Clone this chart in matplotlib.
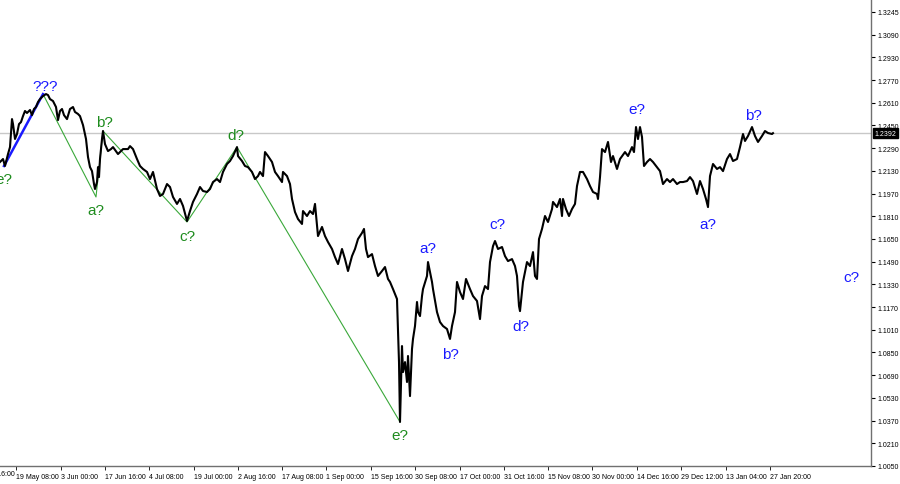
import numpy as np
import matplotlib
matplotlib.use("Agg")
import matplotlib.pyplot as plt
import matplotlib.transforms as mtransforms

plt.rcParams['font.family'] = ['Liberation Sans', 'DejaVu Sans']

# price path (bar index, close)
bars = [0, 3, 5, 8, 10, 12, 13, 15, 17, 19, 21, 23, 25, 27, 30, 32, 34, 36, 38, 40,
        43, 46, 48, 50, 53, 56, 58, 60, 62, 64, 67, 70, 73, 75, 78, 80, 83, 86, 88, 90,
        92, 94, 95, 97, 98, 99, 100, 102, 103, 105, 108, 111, 113, 118, 123, 128,
        130, 133, 137, 140, 143, 147, 150, 153, 157, 160, 163, 167, 170, 173, 177, 180,
        183, 187, 190, 193, 197, 200, 203, 207, 210, 213, 217, 220, 223, 227, 230, 233,
        237, 238, 242, 245, 248, 252, 255, 258,
        260, 263, 265, 268, 272, 275, 278, 282, 283, 287, 290, 292, 295, 298, 302, 303,
        307, 310, 313, 315, 317, 318, 322, 325, 328, 332, 335, 338, 342, 345, 348, 352,
        355, 358, 362, 364, 366, 368, 372, 375, 378, 382, 385, 388,
        390, 393, 397, 398, 399, 400, 402, 403, 405, 407, 408, 410, 412, 413, 415, 417,
        418, 420, 422, 423, 427, 428, 430, 432, 433, 437, 440, 443, 447, 450, 452, 455,
        457, 460, 463, 466, 470, 473, 477, 480, 482, 485, 488, 490, 493, 495, 498, 502,
        505, 508, 512, 515, 517, 519, 520,
        523, 527, 530, 533, 535, 537, 539, 542, 545, 548, 552, 553, 557, 560, 562, 563,
        566, 569, 572, 575, 577, 580, 583, 587, 590, 593, 597, 598, 600, 602, 605, 608,
        611, 613, 617, 620, 625, 628, 632, 634, 636, 638, 640, 642, 644, 647,
        650, 653, 657, 660, 663, 667, 670, 673, 677, 680, 683, 687, 690, 693, 697, 700,
        703, 706, 708, 710, 713, 717, 720, 723, 727, 730, 733, 737, 740, 743, 745, 748,
        752, 755, 758, 762, 765, 768, 772, 773]
closes = [1.2189, 1.2210, 1.2161, 1.2245, 1.2294, 1.2491, 1.2456, 1.2351, 1.2386, 1.2456,
          1.2470, 1.2512, 1.2548, 1.2534, 1.2555, 1.2519, 1.2562, 1.2576, 1.2611, 1.2632,
          1.2653, 1.2667, 1.2660, 1.2632, 1.2618, 1.2576, 1.2484, 1.2548, 1.2562, 1.2519,
          1.2491, 1.2562, 1.2576, 1.2541, 1.2527, 1.2512, 1.2449, 1.2351, 1.2224, 1.2153,
          1.2125, 1.2034, 1.1999, 1.2048, 1.2153, 1.2083, 1.2210, 1.2351, 1.2407, 1.2315,
          1.2266, 1.2280, 1.2294, 1.2245, 1.2280, 1.2280,
          1.2301, 1.2280, 1.2210, 1.2161, 1.2140, 1.2119, 1.2069, 1.2119, 1.1999, 1.1950,
          1.1964, 1.2034, 1.2013, 1.1943, 1.1894, 1.1929, 1.1880, 1.1774, 1.1844, 1.1908,
          1.1964, 1.2013, 1.1985, 1.1978, 1.1999, 1.2048, 1.2069, 1.2048, 1.2119, 1.2175,
          1.2196, 1.2231, 1.2294, 1.2231, 1.2196, 1.2161, 1.2153, 1.2119, 1.2069, 1.2090,
          1.2119, 1.2090, 1.2259, 1.2231, 1.2189, 1.2119, 1.2090, 1.2048, 1.2119, 1.2090,
          1.2034, 1.1929, 1.1837, 1.1788, 1.1753, 1.1844, 1.1809, 1.1844, 1.1823, 1.1894,
          1.1739, 1.1668, 1.1732, 1.1668, 1.1626, 1.1577, 1.1520, 1.1471, 1.1577, 1.1506,
          1.1422, 1.1527, 1.1577, 1.1647, 1.1690, 1.1718, 1.1577, 1.1520, 1.1541, 1.1457,
          1.1387, 1.1422, 1.1450, 1.1366,
          1.1345, 1.1295, 1.1225, 1.1014, 1.0781, 1.0360, 1.0894, 1.0711, 1.0781, 1.0641,
          1.0824, 1.0542, 1.0873, 1.0944, 1.1035, 1.1204, 1.1133, 1.1105, 1.1246, 1.1295,
          1.1387, 1.1485, 1.1415, 1.1345, 1.1295, 1.1133, 1.1063, 1.1035, 1.1014, 1.0944,
          1.1035, 1.1133, 1.1345, 1.1274, 1.1225, 1.1366, 1.1295, 1.1246, 1.1211, 1.1084,
          1.1246, 1.1316, 1.1295, 1.1485, 1.1597, 1.1633, 1.1577, 1.1591, 1.1527, 1.1492,
          1.1506, 1.1457, 1.1387, 1.1176, 1.1140,
          1.1345, 1.1485, 1.1457, 1.1555, 1.1387, 1.1366, 1.1647, 1.1718, 1.1809, 1.1767,
          1.1858, 1.1908, 1.1872, 1.1929, 1.1809, 1.1929, 1.1858, 1.1809, 1.1858, 1.1894,
          1.2020, 1.2119, 1.2119, 1.2069, 1.2020, 1.1978, 1.1964, 1.1929, 1.2083, 1.2280,
          1.2259, 1.2330, 1.2189, 1.2231, 1.2140, 1.2210, 1.2259, 1.2231, 1.2294, 1.2259,
          1.2435, 1.2351, 1.2435, 1.2365, 1.2161, 1.2189,
          1.2210, 1.2189, 1.2153, 1.2125, 1.2034, 1.2069, 1.2048, 1.2069, 1.2034, 1.2048,
          1.2048, 1.2055, 1.2083, 1.2055, 1.1964, 1.2055, 1.1999, 1.1929, 1.1872, 1.2090,
          1.2175, 1.2140, 1.2153, 1.2125, 1.2210, 1.2245, 1.2196, 1.2210, 1.2294, 1.2386,
          1.2337, 1.2372, 1.2435, 1.2372, 1.2330, 1.2372, 1.2407, 1.2393, 1.2386, 1.2392]
last_price = 1.2392

# wave markup lines
blue_wave_bars = [4, 43]
blue_wave_prices = [1.2161, 1.2667]
green_wave_bars = [43, 96, 103, 187, 237, 400]
green_wave_prices = [1.2667, 1.1943, 1.2407, 1.1767, 1.2294, 1.0360]

# wave labels
label_texts = ['???', 'e?', 'a?', 'b?', 'c?', 'd?', 'e?',
               'a?', 'b?', 'c?', 'd?', 'e?', 'a?', 'b?', 'c?']
label_bars = [45, 4, 96, 104, 187, 236, 400, 428, 450, 497, 521, 637, 708, 753, 851]
label_prices = [1.2724, 1.2069, 1.1851, 1.2470, 1.1668, 1.2379, 1.0268,
                1.1584, 1.0838, 1.1753, 1.1035, 1.2562, 1.1753, 1.2520, 1.1380]
label_colors = ['blue', 'green', 'green', 'green', 'green', 'green', 'green',
                'blue', 'blue', 'blue', 'blue', 'blue', 'blue', 'blue', 'blue']

# axis labels
price_labels = ['1.0050', '1.0210', '1.0370', '1.0530', '1.0690', '1.0850', '1.1010',
                '1.1170', '1.1330', '1.1490', '1.1650', '1.1810', '1.1970', '1.2130',
                '1.2290', '1.2450', '1.2610', '1.2770', '1.2930', '1.3090', '1.3245']
date_labels = ['4 May 16:00', '19 May 08:00', '3 Jun 00:00', '17 Jun 16:00', '4 Jul 08:00',
               '19 Jul 00:00', '2 Aug 16:00', '17 Aug 08:00', '1 Sep 00:00', '15 Sep 16:00',
               '30 Sep 08:00', '17 Oct 00:00', '31 Oct 16:00', '15 Nov 08:00', '30 Nov 00:00',
               '14 Dec 16:00', '29 Dec 12:00', '13 Jan 04:00', '27 Jan 20:00']
date_bars = [-24, 16, 61, 105, 149, 194, 238, 282, 326, 371, 415, 460, 504, 548, 592,
             637, 681, 726, 770]

colors = {'blue': '#1a1aff', 'green': '#1e8c1e'}

fig = plt.figure(figsize=(9, 4.85), dpi=100)
ax = fig.add_axes([0, 18 / 485, 871 / 900, 467 / 485])

ax.axhline(last_price, color='#c8c8c8', lw=1, zorder=1)
ax.plot(green_wave_bars, green_wave_prices, color='#3aa83a', lw=0.8, zorder=2)
ax.plot(blue_wave_bars, blue_wave_prices, color='#1a1aff', lw=1.8, zorder=2)
ax.plot(bars, closes, color='black', lw=1.5, zorder=3)

for t, b, p, c in zip(label_texts, label_bars, label_prices, label_colors):
    ax.text(b, p, t, color=colors[c], fontsize=11, ha='center', va='center',
            clip_on=False, zorder=4)

ax.spines['top'].set_visible(False)
ax.spines['left'].set_visible(False)
for s in ['right', 'bottom']:
    ax.spines[s].set_color('#707070')
    ax.spines[s].set_linewidth(1)

ax.yaxis.tick_right()
ax.set_yticks(np.linspace(1.0050, 1.3245, 21))
ax.set_yticklabels(price_labels)
ax.tick_params(axis='y', length=3, width=0.8, pad=2, labelsize=5, colors='black')

ax.set_xticks(date_bars[1:])
ax.set_xticklabels(date_labels[1:])
ax.tick_params(axis='x', length=3, width=0.6, pad=2, labelsize=5, colors='black')
for lab in ax.get_xticklabels():
    lab.set_horizontalalignment('left')

# set limits after the ticks so they are not widened
ax.set_xlim(0, 871)
ax.set_ylim(1.0050, 1.3336)

# the first date label is cut by the left edge of the picture
xtrans = mtransforms.blended_transform_factory(ax.transData, ax.transAxes)
ax.text(date_bars[0], -0.0075, date_labels[0], transform=xtrans, fontsize=5,
        ha='left', va='top', clip_on=False)

# current price marker on the scale
trans = mtransforms.blended_transform_factory(ax.transAxes, ax.transData)
ax.text(1.004, last_price, '1.2392', transform=trans, fontsize=5, color='white',
        ha='left', va='center', clip_on=False, zorder=5,
        bbox=dict(boxstyle='square,pad=0.25', facecolor='black', edgecolor='black'))

fig.savefig('out.png', dpi=100, facecolor='white')
